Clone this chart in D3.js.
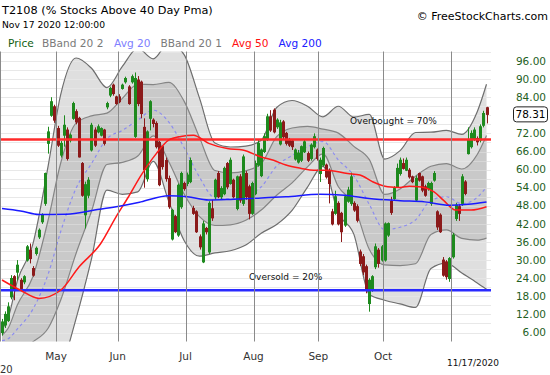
<!DOCTYPE html>
<html>
<head>
<meta charset="utf-8">
<script src="https://cdnjs.cloudflare.com/ajax/libs/d3/7.8.5/d3.min.js"></script>
<style>
  body { margin: 0; background: #fff; }
  svg { display: block; font-family: "DejaVu Sans", Verdana, sans-serif; }
</style>
</head>
<body>
<div id="chart"></div>
<script>

///////////////////////////////////////////////////////////////////////////
//////////////////////////////// The data /////////////////////////////////
///////////////////////////////////////////////////////////////////////////

// One candle per trading day, Apr 6 2020 (index 0) to Nov 17 2020 (index 157)
var opens = [6, 8.5, 10, 17.8, 24.5, 26, 23.3, 22.8, 30, 33.3,
    27.2, 32.2, 37.7, 42.7, 48.8, 68.7, 78, 80.8, 73.6, 64.8,
    71.4, 73.1, 69.8, 77, 79.2, 77, 62, 45, 51.5, 66.5,
    73.1, 72.5, 71.4, 73.1, 80.8, 84.7, 88, 84.1, 84.1, 86.9,
    89.1, 87.4, 89.1, 71, 89.7, 89, 74, 57, 77, 76.4,
    75.3, 69, 67.6, 63, 57, 37, 44.4, 38.3, 47.7, 55.4,
    55.4, 56, 47.1, 46, 37.7, 29.4, 40.5, 32.7, 47, 51,
    58.7, 51, 52, 62, 55.4, 56.5, 47.1, 57.6, 48.8, 58.7,
    54.3, 45.5, 52, 61.5, 58, 66, 70, 77.5, 79.7, 74.2,
    68.5, 75.8, 72, 69.8, 69.5, 63.5, 62.5, 63.1, 65.9, 65.3,
    63.7, 67.6, 66.5, 58.7, 61.5, 61.5, 59.8, 46, 45.5, 48.8,
    45.5, 41.6, 49.5, 48.8, 48.8, 47.7, 32.7, 31.1, 27.8, 15.6,
    20, 27.8, 33.3, 30, 30, 38.3, 49.5, 50.4, 54.3, 58.7,
    62, 59.8, 59.8, 57.6, 49.9, 58.7, 57.6, 54.3, 53.7, 48.8,
    56.5, 46, 44.9, 30, 29.4, 23.9, 31.1, 43.8, 47.7, 48.8,
    55.9, 65.3, 67.6, 70.3, 70.3, 69.8, 74.7, 80.5];

var highs = [10.5, 13, 16, 25, 25, 30, 24, 25, 35, 35.5,
    28, 34.5, 40.5, 45.5, 59, 74.2, 84, 81.5, 74.5, 69.5,
    78, 74, 72, 82.5, 80, 77.5, 62.5, 56, 57.5, 75.5,
    74, 75, 74, 73.5, 82.5, 87.5, 88.5, 84.5, 85, 88.5,
    90.8, 88, 91.5, 92.2, 91, 89.5, 77, 73, 83, 77,
    76, 69.5, 68, 64, 58, 47, 45, 55.4, 59.3, 56,
    59, 64, 48, 46.5, 38.5, 43, 41, 49.5, 50, 57,
    59.5, 54.5, 61, 62.5, 64, 57, 58, 58.5, 65, 59.5,
    55, 56, 63, 70, 67, 72, 78.5, 79.7, 80.3, 77,
    76.5, 76.4, 72.5, 70.5, 70, 67, 66.5, 68, 70, 66,
    68.7, 72, 67, 64, 67.6, 62, 60.4, 47, 53, 49.5,
    46, 51.5, 54.3, 59, 49.5, 48.5, 33.5, 32, 28.5, 24,
    25, 35.5, 34, 35, 42.5, 42.5, 51, 54.5, 62, 64,
    63.7, 64, 60.5, 58, 58, 59, 58, 55, 56, 56,
    59.5, 46.5, 45.5, 31, 30, 31, 39, 49, 48.5, 58.5,
    56.5, 74, 73, 74, 71, 75, 79.5, 80.8];

var lows = [5, 7.5, 9.5, 17, 16.7, 23.3, 20, 22, 29.5, 28.9,
    24.5, 31.5, 37, 42, 48, 65.3, 77.5, 75.5, 67.5, 64,
    67.6, 63, 69, 76.5, 75, 64, 51, 40.5, 50.5, 66,
    67.5, 72, 71, 68, 80, 84, 84.5, 81.5, 82, 86.5,
    88.5, 81.5, 88.5, 70.5, 81, 77, 54, 56, 73, 74,
    67, 54.5, 60, 56, 47, 36.5, 39, 37.7, 47, 53,
    54.5, 55.5, 45, 39, 33.5, 29, 38.5, 32, 43, 50,
    50.5, 50, 51.5, 53.5, 55, 50.5, 46.5, 49, 48, 50,
    43.5, 45, 51.5, 61, 57.5, 65.5, 69.5, 72.5, 72, 73.5,
    68, 70, 68, 67.5, 66.5, 63, 62, 62.5, 65.5, 62.5,
    63, 67, 63, 55.9, 61, 57, 48.8, 41.5, 45, 41.5,
    36, 41, 49, 48, 46, 42.5, 28, 25, 19, 12.9,
    19.5, 27, 27.5, 29.5, 29.5, 37.7, 45, 50, 54, 58,
    60, 59.5, 57, 55.5, 49.5, 56, 52.5, 51, 53, 48,
    56, 40, 39, 24.5, 23.5, 22.8, 30.5, 43, 43, 48,
    51.5, 65, 67, 69.5, 68, 69, 74, 75.3];

var closes = [9.5, 12, 14.5, 23.9, 20, 28.3, 20.6, 24.5, 34.4, 30.5,
    25, 33.9, 39.9, 44.9, 58.7, 72.5, 82.5, 76.4, 68.1, 68.7,
    74.7, 63.7, 71.4, 81.9, 75.8, 64.2, 51.5, 55, 56.5, 74.7,
    68.1, 74.2, 73.6, 68.7, 81.9, 86.9, 85.2, 81.9, 82.5, 88,
    90.2, 81.9, 90.8, 90.2, 81.9, 78.6, 60, 72.5, 82.5, 75.3,
    67.6, 55, 61, 57, 47.7, 46.5, 39.4, 54.8, 58.7, 53.7,
    58.2, 63, 45.5, 39.4, 34.4, 42, 39.4, 48.8, 44, 56.5,
    51, 53.7, 60.4, 54.3, 63.1, 51, 57.6, 49.9, 64.2, 51,
    45.5, 55.4, 62, 68.7, 66.5, 70.9, 77.5, 73.1, 72.5, 76.4,
    75.5, 70.9, 68.7, 68.1, 67.6, 66.5, 65.5, 67.6, 69.2, 63.1,
    68.1, 70.9, 63.7, 63.1, 67, 57.6, 55.4, 42, 51, 42,
    39.4, 51, 53.2, 57.6, 46.6, 43.2, 28.9, 26.1, 20, 23.3,
    24.5, 34.4, 28.9, 34.4, 42, 42.1, 45.8, 53.7, 60.4, 63.1,
    60.4, 63.1, 57.6, 56, 57.1, 56.5, 53.2, 51.5, 55.4, 55.4,
    58.7, 41, 39.4, 25, 24.5, 30.5, 38.3, 48.2, 45.5, 57.6,
    52.1, 69.8, 72, 73.1, 69.2, 74.2, 78.6, 78.31];

// Bollinger band (20 day) read every few sessions: middle line and one std dev
var bandIdx = [0, 2, 5, 10, 15, 19, 24, 29, 34, 39, 44, 49, 54, 59, 64, 69, 74, 79,
    84, 89, 94, 99, 104, 109, 114, 119, 124, 129, 134, 139, 144, 149, 154, 157];
var avg20 = [3.3, 3.9, 7.2, 13.7, 25.5, 39.4, 53.8, 62, 70.2, 73, 76.4, 79.7, 75.8, 67.3, 57.5, 50.6, 50.3, 51.4,
    54.3, 61.2, 64.7, 67.6, 69.3, 63.2, 58, 48.5, 40.1, 40.9, 43.3, 49.8, 51, 48.7, 50.8, 54.3];
var sd20 = [1.8, 3.5, 8, 10.8, 18, 22.7, 21.6, 15.8, 8.5, 10.6, 11.9, 8.5, 13.1, 15.4, 13.1, 9.1, 8.6, 8.2,
    7.7, 9.7, 9.1, 6.7, 4.1, 8.9, 9.7, 14.9, 11.7, 12.7, 14.5, 11.3, 11.0, 11.5, 14.2, 17];

// 50 and 200 day averages
var avg50Idx = [0, 6, 12, 19, 25, 32, 37, 41, 45, 50, 54, 58, 62, 67, 73, 78, 84, 88, 92, 97, 101,
    105, 112, 116, 120, 125, 129, 132, 136, 140, 143, 147, 152, 157];
var avg50 = [23.4, 20, 17.3, 20, 27.8, 35.5, 44.4, 51, 58, 65.3, 69.8, 71, 71.4, 68.7, 67, 66.5, 64.2, 63.1, 61.5, 60.4, 59.8,
    59.8, 58.7, 58.2, 56, 54.3, 54.1, 54.5, 54.2, 52.6, 49.9, 46.6, 46.6, 47.7];
var avg200Idx = [0, 6, 12, 21, 30, 37, 45, 54, 60, 67, 74, 84, 92, 103, 111, 119, 129, 137, 145, 151, 157];
var avg200 = [47.1, 46.3, 45.1, 45.2, 46.6, 47.7, 49.3, 51.3, 51, 49.9, 50.1, 50.6, 51, 51.8, 51.5, 50.4,
    49.7, 49.3, 48.2, 48.5, 49.3];

// Axis
var monthLabels = ["May", "Jun", "Jul", "Aug", "Sep", "Oct", ""];
var monthStarts = [18, 38, 60, 82, 103, 124, 146];
var yLabels = [96, 90, 84, 72, 66, 60, 54, 48, 42, 36, 30, 24, 18, 12, 6];
var lastValue = 78.31;
var overbought = 70,
    oversold = 20;

///////////////////////////////////////////////////////////////////////////
///////////////////////////// Set up the SVG //////////////////////////////
///////////////////////////////////////////////////////////////////////////

var width = 550,
    height = 375,
    plotLeft = 0,
    plotRight = 491,
    plotTop = 51.5,
    plotBottom = 341.5;

var svg = d3.select("#chart")
    .append("svg")
        .attr("width", width)
        .attr("height", height);

var x = d3.scaleLinear()
    .domain([0, closes.length - 1])
    .range([2, 486.5]);

var y = d3.scaleLinear()
    .domain([6, 96])
    .range([332.5, 61]);

svg.append("defs")
    .append("clipPath")
        .attr("id", "plot-clip")
        .append("rect")
            .attr("x", plotLeft)
            .attr("y", plotTop)
            .attr("width", plotRight - plotLeft)
            .attr("height", plotBottom - plotTop);

var plot = svg.append("g")
    .attr("clip-path", "url(#plot-clip)");

var band = bandIdx.map(function(d, k) {
    return { i: d, mid: avg20[k], sd: sd20[k] };
});

var gridValues = d3.range(3, 100, 3);

// Grid under everything
plot.append("g")
    .selectAll("line")
    .data(gridValues)
    .enter()
    .append("line")
        .attr("x1", plotLeft)
        .attr("x2", plotRight)
        .attr("y1", d => Math.round(y(d)) + 0.5)
        .attr("y2", d => Math.round(y(d)) + 0.5)
        .attr("stroke", "#e3e3e3")
        .attr("stroke-width", 1);

///////////////////////////////////////////////////////////////////////////
///////////////////////////////// Bands ///////////////////////////////////
///////////////////////////////////////////////////////////////////////////

function bandArea(k) {
    return d3.area()
        .x(d => x(d.i))
        .y0(d => y(d.mid - k * d.sd))
        .y1(d => y(d.mid + k * d.sd))
        .curve(d3.curveMonotoneX);
}

function bandLine(k) {
    return d3.line()
        .x(d => x(d.i))
        .y(d => y(d.mid + k * d.sd))
        .curve(d3.curveMonotoneX);
}

plot.append("path")
    .datum(band)
    .attr("d", bandArea(2))
    .attr("fill", "#dfdfdf");

plot.append("path")
    .datum(band)
    .attr("d", bandArea(1))
    .attr("fill", "#c9c9c9");

// Faint grid showing through the band fill
plot.append("g")
    .selectAll("line")
    .data(gridValues)
    .enter()
    .append("line")
        .attr("x1", plotLeft)
        .attr("x2", plotRight)
        .attr("y1", d => Math.round(y(d)) + 0.5)
        .attr("y2", d => Math.round(y(d)) + 0.5)
        .attr("stroke", "#f2f2f2")
        .attr("stroke-opacity", 0.35)
        .attr("stroke-width", 1);

// Month lines
svg.append("g")
    .selectAll("line")
    .data(monthStarts)
    .enter()
    .append("line")
        .attr("x1", d => Math.round(x(d - 0.5)) + 0.5)
        .attr("x2", d => Math.round(x(d - 0.5)) + 0.5)
        .attr("y1", plotTop)
        .attr("y2", plotBottom)
        .attr("stroke", "#8a8a8a")
        .attr("stroke-width", 1);

svg.append("line")
    .attr("x1", 0.5)
    .attr("x2", 0.5)
    .attr("y1", plotTop)
    .attr("y2", plotBottom)
    .attr("stroke", "#8a8a8a");

[2, 1, -1, -2].forEach(function(k) {
    plot.append("path")
        .datum(band)
        .attr("d", bandLine(k))
        .attr("fill", "none")
        .attr("stroke", Math.abs(k) == 2 ? "#6e6e6e" : "#858585")
        .attr("stroke-width", 1.2);
});

// Avg 20 (dashed)
plot.append("path")
    .datum(band)
    .attr("d", bandLine(0))
    .attr("fill", "none")
    .attr("stroke", "#8c8cf0")
    .attr("stroke-width", 1.2)
    .attr("stroke-dasharray", "3,3");

///////////////////////////////////////////////////////////////////////////
//////////////////////////////// Candles //////////////////////////////////
///////////////////////////////////////////////////////////////////////////

var candles = closes.map(function(c, i) {
    return { i: i, o: opens[i], h: highs[i], l: lows[i], c: c };
});

var candleColor = d => d.c >= d.o ? "#1e8a1e" : "#8b1a1a";

var candleG = plot.append("g")
    .selectAll("g")
    .data(candles)
    .enter()
    .append("g");

candleG.append("line")
    .attr("x1", d => Math.round(x(d.i)) + 0.5)
    .attr("x2", d => Math.round(x(d.i)) + 0.5)
    .attr("y1", d => y(d.h))
    .attr("y2", d => y(d.l))
    .attr("stroke", candleColor)
    .attr("stroke-width", 1);

candleG.append("rect")
    .attr("x", d => Math.round(x(d.i)) - 0.5)
    .attr("width", 2)
    .attr("y", d => y(Math.max(d.o, d.c)))
    .attr("height", d => Math.max(1, y(Math.min(d.o, d.c)) - y(Math.max(d.o, d.c))))
    .attr("fill", d => d.c >= d.o ? "none" : "#8b1a1a")
    .attr("stroke", candleColor)
    .attr("stroke-width", 1);

///////////////////////////////////////////////////////////////////////////
////////////////////////// Levels and averages ////////////////////////////
///////////////////////////////////////////////////////////////////////////

plot.append("line")
    .attr("x1", plotLeft).attr("x2", plotRight)
    .attr("y1", y(overbought)).attr("y2", y(overbought))
    .attr("stroke", "#ff2a2a")
    .attr("stroke-width", 2.5);

plot.append("line")
    .attr("x1", plotLeft).attr("x2", plotRight)
    .attr("y1", y(oversold)).attr("y2", y(oversold))
    .attr("stroke", "#2a2aff")
    .attr("stroke-width", 2.5);

function avgLine(idx, vals, color) {
    plot.append("path")
        .datum(idx.map((d, k) => [d, vals[k]]))
        .attr("d", d3.line()
            .x(d => x(d[0]))
            .y(d => y(d[1]))
            .curve(d3.curveMonotoneX))
        .attr("fill", "none")
        .attr("stroke", color)
        .attr("stroke-width", 1.5);
}

avgLine(avg50Idx, avg50, "#ff1a1a");
avgLine(avg200Idx, avg200, "#1a1aff");

plot.append("text")
    .attr("x", 350)
    .attr("y", y(overbought) - 15)
    .text("Overbought = 70%")
    .style("font-size", "9px")
    .attr("fill", "#111");

plot.append("text")
    .attr("x", 249)
    .attr("y", y(oversold) - 10)
    .text("Oversold = 20%")
    .style("font-size", "9px")
    .attr("fill", "#111");

///////////////////////////////////////////////////////////////////////////
////////////////////////////////// Axes ///////////////////////////////////
///////////////////////////////////////////////////////////////////////////

svg.append("g")
    .selectAll("text")
    .data(yLabels)
    .enter()
    .append("text")
        .attr("x", 546)
        .attr("y", d => y(d))
        .attr("dy", "0.35em")
        .attr("text-anchor", "end")
        .text(d => d.toFixed(2))
        .style("font-size", "10.5px")
        .attr("fill", "#1f5f1f");

svg.append("rect")
    .attr("x", 513.5)
    .attr("y", y(lastValue) - 7.5)
    .attr("width", 34)
    .attr("height", 15)
    .attr("rx", 3)
    .attr("fill", "#fff")
    .attr("stroke", "#222");

svg.append("text")
    .attr("x", 530.5)
    .attr("y", y(lastValue))
    .attr("dy", "0.35em")
    .attr("text-anchor", "middle")
    .text(lastValue.toFixed(2))
    .style("font-size", "10.5px")
    .attr("fill", "#000");

svg.append("g")
    .selectAll("text")
    .data(monthStarts)
    .enter()
    .append("text")
        .attr("x", d => x(d - 0.5))
        .attr("y", 360)
        .attr("text-anchor", "middle")
        .text((d, k) => monthLabels[k])
        .style("font-size", "10.5px")
        .attr("fill", "#333");

svg.append("text")
    .attr("x", 473)
    .attr("y", 366)
    .attr("text-anchor", "middle")
    .text("11/17/2020")
    .style("font-size", "9px")
    .attr("fill", "#111");

svg.append("text")
    .attr("x", 0)
    .attr("y", 372.5)
    .text("20")
    .style("font-size", "10px")
    .attr("fill", "#333");

///////////////////////////////////////////////////////////////////////////
///////////////////////////// Title and legend ////////////////////////////
///////////////////////////////////////////////////////////////////////////

svg.append("text")
    .attr("x", 2)
    .attr("y", 13.5)
    .text("T2108 (% Stocks Above 40 Day Pma)")
    .style("font-size", "11.3px")
    .attr("fill", "#000");

svg.append("text")
    .attr("x", 2)
    .attr("y", 27.5)
    .text("Nov 17 2020 12:00:00")
    .style("font-size", "9.2px")
    .attr("fill", "#000");

svg.append("text")
    .attr("x", 548)
    .attr("y", 20)
    .attr("text-anchor", "end")
    .text("\u00a9 FreeStockCharts.com")
    .style("font-size", "11px")
    .attr("fill", "#000");

var legendNames = ["Price", "BBand 20 2", "Avg 20", "BBand 20 1", "Avg 50", "Avg 200"];
var legendX = [8, 42, 114, 160.5, 232, 278.5];
var legendColors = ["#106010", "#7a7a7a", "#8080ff", "#7a7a7a", "#ff1010", "#2020ff"];

svg.append("g")
    .selectAll("text")
    .data(legendNames)
    .enter()
    .append("text")
        .attr("x", (d, k) => legendX[k])
        .attr("y", 46.5)
        .text(d => d)
        .style("font-size", "10.6px")
        .attr("fill", (d, k) => legendColors[k]);

</script>
</body>
</html>
